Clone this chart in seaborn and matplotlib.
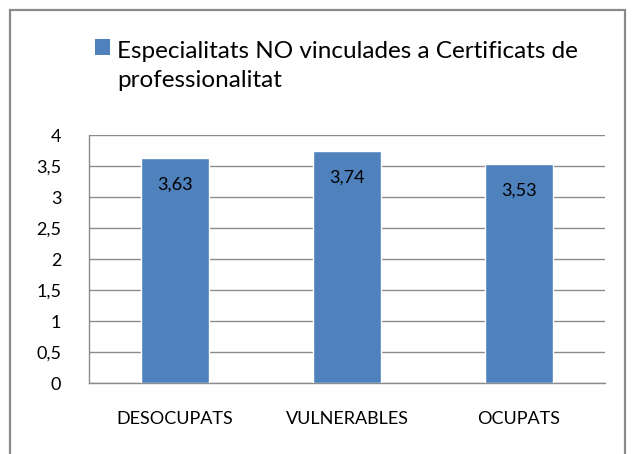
import matplotlib
matplotlib.use("Agg")
import matplotlib.pyplot as plt
import seaborn as sns
import pandas as pd
from matplotlib.patches import Rectangle

categories = ["DESOCUPATS", "VULNERABLES", "OCUPATS"]
values = [3.63, 3.74, 3.53]
series_name = "Especialitats NO vinculades a Certificats de\nprofessionalitat"
y_ticks = [0, 0.5, 1, 1.5, 2, 2.5, 3, 3.5, 4]

sns.set_theme(style="white")
plt.rcParams["font.family"] = ["Lato", "DejaVu Sans"]

bar_color = "#4F81BD"
grid_color = "#8C8C8C"

df = pd.DataFrame({"cat": categories, "val": values})

fig = plt.figure(figsize=(6.34, 4.54), dpi=100)
ax = fig.add_axes([89 / 634, 71 / 454, 516 / 634, 248 / 454])

sns.barplot(data=df, x="cat", y="val", color=bar_color, width=0.4,
            saturation=1, ax=ax, zorder=3)

ax.set_xlim(-0.5, len(categories) - 0.5)
ax.set_ylim(0, 4)
ax.set_yticks(y_ticks)
ax.set_yticklabels([("%g" % t).replace(".", ",") for t in y_ticks], fontsize=13)
ax.set_xlabel("")
ax.set_ylabel("")
ax.tick_params(axis="x", which="major", length=0, pad=20, labelsize=13, labelcolor="black")
ax.tick_params(axis="y", which="major", length=6, width=1, color=grid_color, pad=14, labelcolor="black")
ax.set_xticks([i - 0.5 for i in range(len(categories) + 1)], minor=True)
ax.tick_params(axis="x", which="minor", length=6, width=1, color=grid_color)

ax.yaxis.grid(True, color=grid_color, linewidth=1, zorder=0)
ax.set_axisbelow(True)
for s in ["top", "right"]:
    ax.spines[s].set_visible(False)
for s in ["left", "bottom"]:
    ax.spines[s].set_color(grid_color)
    ax.spines[s].set_linewidth(1)

for i, v in enumerate(values):
    ax.text(i, v - 0.43, f"{v:.2f}".replace(".", ","), ha="center", va="center",
            fontsize=13, color="black", zorder=4)

# legend
fig.patches.append(Rectangle((95 / 634, 1 - 55 / 454), 15 / 634, 16 / 454,
                             transform=fig.transFigure, facecolor=bar_color,
                             edgecolor="none"))
for k, line in enumerate(series_name.split("\n")):
    fig.text(117 / 634, 1 - (58 + 29 * k) / 454, line, ha="left", va="baseline",
             fontsize=17.5, color="black", transform=fig.transFigure)

# outer border
fig.patches.append(Rectangle((10 / 634, -0.05), 615 / 634, 1.05 - 10 / 454,
                             transform=fig.transFigure, facecolor="none",
                             edgecolor="#8A8A8A", linewidth=1.6))

fig.savefig("out.png", dpi=100)
